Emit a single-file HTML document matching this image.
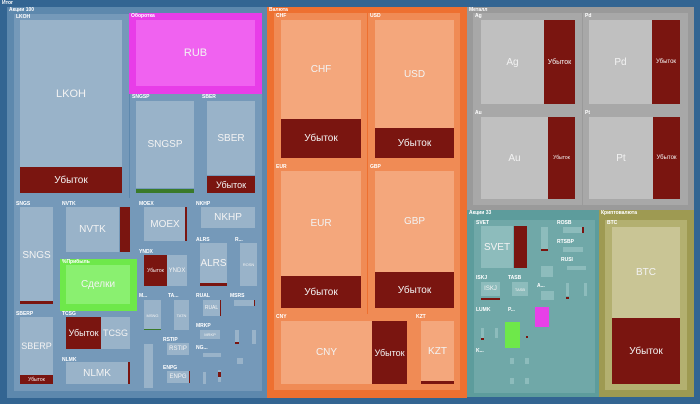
<!DOCTYPE html>
<html><head><meta charset="utf-8"><style>
body{margin:0;width:700px;height:404px;overflow:hidden;background:#336592;font-family:"Liberation Sans","DejaVu Sans",sans-serif}
div{position:absolute;box-sizing:border-box}
.t{font-size:5px;font-weight:bold;color:#fff;padding:1px 0 0 2px;line-height:5px;white-space:nowrap;overflow:hidden}
.c{display:flex;align-items:center;justify-content:center;color:#f2f2f2;font-size:10px;text-align:center;overflow:hidden}
.s{font-size:6px}
.L{background:#7a1510}
.a{background:#99b3c9}.g{background:#7599b9}
.o{background:#f4a77c}.og{background:#f08b55}
.m{background:#c0c0c0}.mg{background:#a8a8a8}
.q{background:#8dbcbc}.qg{background:#70a8a8}
</style></head><body>
<div class="t" style="left:0;top:0;width:40px;height:7px">Итог</div>

<!-- Акции 100 -->
<div style="left:7px;top:7px;width:260px;height:391px;background:#5d88ad"></div>
<div class="t" style="left:7px;top:7px;width:60px;height:7px">Акции 100</div>
<div class="g" style="left:14px;top:198px;width:248px;height:193px"></div>
<div class="g" style="left:14px;top:14px;width:115px;height:184px"></div><div class="t" style="left:14px;top:14px;width:40px">LKOH</div>
<div class="a c" style="left:20px;top:20px;width:102px;height:147px;font-size:11px">LKOH</div>
<div class="L c" style="left:20px;top:167px;width:102px;height:26px">Убыток</div>
<div style="left:129px;top:13px;width:133px;height:81px;background:#e83de8"></div><div class="t" style="left:129px;top:13px;width:40px">Оборотка</div>
<div class="c" style="left:136px;top:20px;width:119px;height:66px;background:#f062f0;font-size:11px">RUB</div>
<div class="g" style="left:130px;top:94px;width:70px;height:104px"></div><div class="t" style="left:130px;top:94px;width:30px">SNGSP</div>
<div class="a c" style="left:136px;top:101px;width:58px;height:87px">SNGSP</div>
<div style="left:136px;top:189px;width:58px;height:4px;background:#3a7a2a"></div>
<div class="g" style="left:200px;top:94px;width:62px;height:104px"></div><div class="t" style="left:200px;top:94px;width:30px">SBER</div>
<div class="a c" style="left:207px;top:101px;width:48px;height:74px">SBER</div>
<div class="L c" style="left:207px;top:176px;width:48px;height:17px;font-size:9px">Убыток</div>

<div class="g" style="left:14px;top:201px;width:46px;height:110px"></div><div class="t" style="left:14px;top:201px;width:30px">SNGS</div>
<div class="a c" style="left:20px;top:207px;width:33px;height:97px">SNGS</div><div class="L" style="left:20px;top:301px;width:33px;height:3px"></div>
<div class="g" style="left:60px;top:201px;width:77px;height:58px"></div><div class="t" style="left:60px;top:201px;width:30px">NVTK</div>
<div class="a c" style="left:66px;top:207px;width:53px;height:45px">NVTK</div><div class="L" style="left:120px;top:207px;width:10px;height:45px"></div>
<div style="left:60px;top:259px;width:77px;height:52px;background:#6ee84a"></div><div class="t" style="left:60px;top:259px;width:40px">%Прибыль</div>
<div class="c" style="left:66px;top:265px;width:64px;height:39px;background:#8af070">Сделки</div>
<div class="g" style="left:14px;top:311px;width:46px;height:80px"></div><div class="t" style="left:14px;top:311px;width:30px">SBERP</div>
<div class="a c" style="left:20px;top:317px;width:33px;height:58px;font-size:9px">SBERP</div>
<div class="L c" style="left:20px;top:375px;width:33px;height:9px;font-size:5px">Убыток</div>
<div class="g" style="left:60px;top:311px;width:77px;height:46px"></div><div class="t" style="left:60px;top:311px;width:30px">TCSG</div>
<div class="L c" style="left:66px;top:317px;width:35px;height:32px;font-size:9px">Убыток</div><div class="a c" style="left:101px;top:317px;width:29px;height:32px;font-size:9px">TCSG</div>
<div class="g" style="left:60px;top:357px;width:77px;height:34px"></div><div class="t" style="left:60px;top:357px;width:30px">NLMK</div>
<div class="a c" style="left:66px;top:362px;width:62px;height:22px">NLMK</div><div class="L" style="left:128px;top:362px;width:2px;height:22px"></div>
<div class="g" style="left:137px;top:201px;width:57px;height:48px"></div><div class="t" style="left:137px;top:201px;width:30px">MOEX</div>
<div class="a c" style="left:144px;top:207px;width:42px;height:34px">MOEX</div><div class="L" style="left:185px;top:207px;width:2px;height:34px"></div>
<div class="g" style="left:194px;top:201px;width:68px;height:36px"></div><div class="t" style="left:194px;top:201px;width:30px">NKHP</div>
<div class="a c" style="left:201px;top:207px;width:54px;height:21px">NKHP</div>
<div class="g" style="left:137px;top:249px;width:57px;height:44px"></div><div class="t" style="left:137px;top:249px;width:30px">YNDX</div>
<div class="L c" style="left:144px;top:255px;width:23px;height:31px;font-size:5px">Убыток</div><div class="a c s" style="left:167px;top:255px;width:20px;height:31px">YNDX</div>
<div class="g" style="left:194px;top:237px;width:39px;height:56px"></div><div class="t" style="left:194px;top:237px;width:30px">ALRS</div>
<div class="a c" style="left:200px;top:243px;width:27px;height:40px">ALRS</div><div class="L" style="left:200px;top:283px;width:27px;height:3px"></div>
<div class="g" style="left:233px;top:237px;width:29px;height:56px"></div><div class="t" style="left:233px;top:237px;width:20px">R...</div>
<div class="a c" style="left:240px;top:243px;width:17px;height:43px;font-size:4px">ROSN</div>
<div class="g" style="left:137px;top:293px;width:29px;height:44px"></div><div class="t" style="left:137px;top:293px;width:20px">M...</div>
<div class="a c" style="left:144px;top:300px;width:17px;height:30px;font-size:4px">MSNG</div><div style="left:144px;top:329px;width:17px;height:1px;background:#3a7a2a"></div>
<div class="g" style="left:166px;top:293px;width:28px;height:44px"></div><div class="t" style="left:166px;top:293px;width:20px">TA...</div>
<div class="a c" style="left:174px;top:300px;width:15px;height:30px;font-size:4px">TATN</div>
<div class="g" style="left:194px;top:293px;width:34px;height:30px"></div><div class="t" style="left:194px;top:293px;width:20px">RUAL</div>
<div class="a c" style="left:203px;top:300px;width:17px;height:16px;font-size:5px">RUAL</div><div class="L" style="left:220px;top:300px;width:1px;height:16px"></div>
<div class="g" style="left:228px;top:293px;width:34px;height:30px"></div><div class="t" style="left:228px;top:293px;width:20px">MSRS</div>
<div class="a" style="left:234px;top:300px;width:21px;height:6px"></div><div class="L" style="left:254px;top:300px;width:1px;height:6px"></div>
<div class="a" style="left:144px;top:344px;width:9px;height:44px"></div>
<div class="t" style="left:161px;top:337px;width:20px">RSTIP</div>
<div class="a c s" style="left:167px;top:343px;width:22px;height:12px">RSTIP</div>
<div class="t" style="left:161px;top:365px;width:20px">ENPG</div>
<div class="a c s" style="left:167px;top:371px;width:22px;height:12px">ENPG</div><div class="L" style="left:189px;top:371px;width:1px;height:12px"></div>
<div class="t" style="left:194px;top:323px;width:20px">MRKP</div>
<div class="a c" style="left:200px;top:330px;width:20px;height:9px;font-size:4px">MRKP</div>
<div class="t" style="left:194px;top:345px;width:20px">NG...</div>
<div class="a" style="left:203px;top:353px;width:18px;height:4px"></div>
<div class="a" style="left:235px;top:330px;width:4px;height:14px"></div><div class="L" style="left:235px;top:342px;width:4px;height:2px"></div>
<div class="a" style="left:252px;top:330px;width:4px;height:14px"></div>
<div class="a" style="left:203px;top:372px;width:3px;height:12px"></div><div class="a" style="left:218px;top:370px;width:3px;height:12px"></div><div class="L" style="left:218px;top:372px;width:3px;height:5px"></div>
<div class="a" style="left:237px;top:358px;width:6px;height:6px"></div>

<!-- Валюта -->
<div style="left:267px;top:7px;width:200px;height:391px;background:#ee7030"></div>
<div class="t" style="left:267px;top:7px;width:40px">Валюта</div>
<div class="og" style="left:274px;top:13px;width:93px;height:151px"></div><div class="t" style="left:274px;top:13px;width:20px">CHF</div>
<div class="o c" style="left:281px;top:20px;width:80px;height:99px">CHF</div><div class="L c" style="left:281px;top:119px;width:80px;height:39px">Убыток</div>
<div class="og" style="left:368px;top:13px;width:92px;height:151px"></div><div class="t" style="left:368px;top:13px;width:20px">USD</div>
<div class="o c" style="left:375px;top:20px;width:79px;height:108px">USD</div><div class="L c" style="left:375px;top:128px;width:79px;height:30px">Убыток</div>
<div class="og" style="left:274px;top:164px;width:93px;height:150px"></div><div class="t" style="left:274px;top:164px;width:20px">EUR</div>
<div class="o c" style="left:281px;top:171px;width:80px;height:105px">EUR</div><div class="L c" style="left:281px;top:276px;width:80px;height:32px">Убыток</div>
<div class="og" style="left:368px;top:164px;width:92px;height:150px"></div><div class="t" style="left:368px;top:164px;width:20px">GBP</div>
<div class="o c" style="left:375px;top:171px;width:79px;height:101px">GBP</div><div class="L c" style="left:375px;top:272px;width:79px;height:36px">Убыток</div>
<div class="og" style="left:274px;top:314px;width:140px;height:76px"></div><div class="t" style="left:274px;top:314px;width:20px">CNY</div>
<div class="o c" style="left:281px;top:321px;width:91px;height:63px">CNY</div><div class="L c" style="left:372px;top:321px;width:35px;height:63px;font-size:9px">Убыток</div>
<div class="og" style="left:414px;top:314px;width:46px;height:76px"></div><div class="t" style="left:414px;top:314px;width:20px">KZT</div>
<div class="o c" style="left:421px;top:321px;width:33px;height:60px">KZT</div><div class="L" style="left:421px;top:381px;width:33px;height:3px"></div>

<!-- Металл -->
<div style="left:467px;top:7px;width:227px;height:203px;background:#9a9a9a"></div>
<div class="t" style="left:467px;top:7px;width:40px">Металл</div>
<div class="mg" style="left:473px;top:13px;width:109px;height:97px"></div><div class="t" style="left:473px;top:13px;width:20px">Ag</div>
<div class="m c" style="left:481px;top:20px;width:63px;height:84px">Ag</div><div class="L c" style="left:544px;top:20px;width:31px;height:84px;font-size:7px">Убыток</div>
<div class="mg" style="left:583px;top:13px;width:105px;height:97px"></div><div class="t" style="left:583px;top:13px;width:20px">Pd</div>
<div class="m c" style="left:589px;top:20px;width:63px;height:84px">Pd</div><div class="L c" style="left:652px;top:20px;width:28px;height:84px;font-size:6px">Убыток</div>
<div class="mg" style="left:473px;top:110px;width:109px;height:95px"></div><div class="t" style="left:473px;top:110px;width:20px">Au</div>
<div class="m c" style="left:481px;top:117px;width:67px;height:82px">Au</div><div class="L c" style="left:548px;top:117px;width:27px;height:82px;font-size:5px">Убыток</div>
<div class="mg" style="left:583px;top:110px;width:105px;height:95px"></div><div class="t" style="left:583px;top:110px;width:20px">Pt</div>
<div class="m c" style="left:589px;top:117px;width:64px;height:82px">Pt</div><div class="L c" style="left:653px;top:117px;width:27px;height:82px;font-size:6px">Убыток</div>

<!-- Акции 33 -->
<div style="left:467px;top:210px;width:132px;height:187px;background:#5d9c9c"></div>
<div class="t" style="left:467px;top:210px;width:40px">Акции 33</div>
<div class="qg" style="left:474px;top:220px;width:121px;height:173px"></div>
<div class="t" style="left:474px;top:220px;width:20px">SVET</div>
<div class="q c" style="left:481px;top:226px;width:32px;height:42px">SVET</div><div class="L" style="left:514px;top:226px;width:13px;height:42px"></div>
<div class="q" style="left:541px;top:227px;width:7px;height:23px"></div><div class="L" style="left:541px;top:249px;width:7px;height:2px"></div>
<div class="t" style="left:555px;top:220px;width:20px">ROSB</div>
<div class="q" style="left:563px;top:227px;width:20px;height:6px"></div><div class="L" style="left:582px;top:227px;width:2px;height:6px"></div>
<div class="t" style="left:555px;top:239px;width:20px">RTSBP</div>
<div class="q" style="left:563px;top:247px;width:20px;height:5px"></div>
<div class="q" style="left:541px;top:266px;width:12px;height:11px"></div>
<div class="t" style="left:559px;top:257px;width:20px">RUSI</div>
<div class="q" style="left:567px;top:266px;width:19px;height:4px"></div>
<div class="t" style="left:474px;top:275px;width:20px">ISKJ</div>
<div class="q c s" style="left:481px;top:282px;width:19px;height:14px">ISKJ</div><div class="L" style="left:481px;top:298px;width:19px;height:2px"></div>
<div class="t" style="left:506px;top:275px;width:20px">TASB</div>
<div class="q c" style="left:512px;top:282px;width:16px;height:14px;font-size:4px">TASB</div>
<div class="t" style="left:535px;top:283px;width:20px">A...</div>
<div class="q" style="left:541px;top:291px;width:13px;height:9px"></div>
<div class="q" style="left:566px;top:283px;width:3px;height:13px"></div><div class="L" style="left:566px;top:297px;width:3px;height:2px"></div>
<div class="q" style="left:584px;top:283px;width:3px;height:13px"></div>
<div class="t" style="left:474px;top:307px;width:20px">LUMK</div>
<div class="t" style="left:506px;top:307px;width:20px">P...</div>
<div style="left:535px;top:307px;width:14px;height:20px;background:#e840e8"></div>
<div class="q" style="left:481px;top:328px;width:3px;height:10px"></div><div class="L" style="left:481px;top:338px;width:3px;height:2px"></div>
<div class="q" style="left:495px;top:328px;width:3px;height:10px"></div>
<div style="left:505px;top:322px;width:15px;height:26px;background:#6ee84a"></div>
<div class="L" style="left:526px;top:336px;width:2px;height:2px"></div>
<div class="t" style="left:474px;top:348px;width:20px">K...</div>
<div class="q" style="left:510px;top:358px;width:4px;height:6px"></div><div class="q" style="left:525px;top:358px;width:4px;height:6px"></div>
<div class="q" style="left:510px;top:378px;width:4px;height:6px"></div><div class="q" style="left:525px;top:378px;width:4px;height:6px"></div>

<!-- Криптовалюта -->
<div style="left:599px;top:210px;width:95px;height:187px;background:#9e9a52"></div>
<div class="t" style="left:599px;top:210px;width:50px">Криптовалюта</div>
<div style="left:605px;top:220px;width:82px;height:170px;background:#b3b070"></div><div class="t" style="left:605px;top:220px;width:20px">BTC</div>
<div class="c" style="left:612px;top:227px;width:68px;height:91px;background:#c9c595">BTC</div>
<div class="L c" style="left:612px;top:318px;width:68px;height:66px">Убыток</div>
</body></html>
